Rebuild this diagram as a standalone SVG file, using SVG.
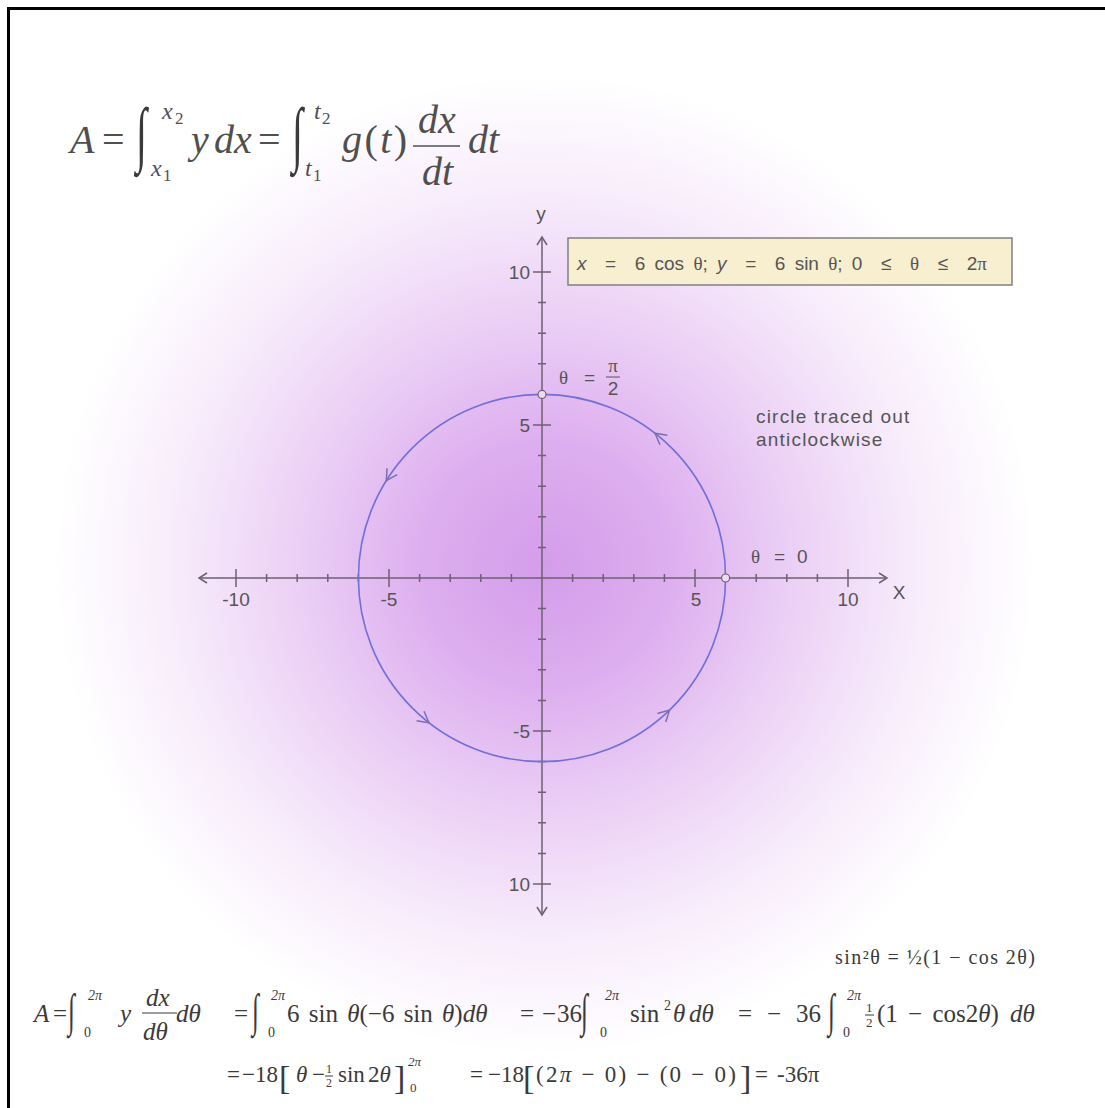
<svg xmlns="http://www.w3.org/2000/svg" width="1105" height="1108" viewBox="0 0 1105 1108">
<defs>
  <radialGradient id="bg" gradientUnits="userSpaceOnUse" cx="545" cy="565" r="490">
    <stop offset="0" stop-color="#d49dea"/>
    <stop offset="0.25" stop-color="#ddaeef"/>
    <stop offset="0.5" stop-color="#ebcff5"/>
    <stop offset="0.75" stop-color="#f7ebfb"/>
    <stop offset="1" stop-color="#ffffff"/>
  </radialGradient>
  <path id="chev" d="M-11,-6 L0,0 L-11,6" fill="none" stroke="#7a70b0" stroke-width="1.5"/>
</defs>
<style>
  .m { font-family: "Liberation Serif", "Times New Roman", serif; fill: #3a3a3a; }
  .t { fill: #4f4f4f; font-size: 40px; }
  .b1 { font-size: 25px; }
  .b2 { font-size: 23px; }
  .i { font-style: italic; }
  .lab { font-family: "Liberation Sans", Arial, sans-serif; fill: #555; font-size: 19px; }
  .ax { stroke: #6d6272; stroke-width: 1.5; fill: none; }
  .int { font-family: "Liberation Serif", "Times New Roman", serif; fill: #3a3a3a; }
  .gk { font-family: "Liberation Serif", "Times New Roman", serif; }
</style>

<rect x="0" y="0" width="1105" height="1108" fill="#ffffff"/>
<rect x="0" y="0" width="1105" height="1108" fill="url(#bg)"/>
<path d="M8.5,1108 V8.5 H1105" fill="none" stroke="#000" stroke-width="3"/>

<g id="top-formula" class="m t">
  <text x="70" y="153" class="i">A</text>
  <text x="102" y="153">=</text>
  <text class="int" font-size="40" transform="translate(136,158) scale(1,1.8)">∫</text>
  <text x="162" y="119" class="i" font-size="24">x</text>
  <text x="175" y="124" font-size="17">2</text>
  <text x="151" y="176" class="i" font-size="24">x</text>
  <text x="163" y="181" font-size="17">1</text>
  <text x="191" y="153" class="i">y</text>
  <text x="214" y="153" class="i">dx</text>
  <text x="258" y="153">=</text>
  <text class="int" font-size="40" transform="translate(292,158) scale(1,1.8)">∫</text>
  <text x="314" y="119" class="i" font-size="24">t</text>
  <text x="322" y="124" font-size="17">2</text>
  <text x="305" y="176" class="i" font-size="24">t</text>
  <text x="313" y="181" font-size="17">1</text>
  <text x="342" y="153" textLength="65" lengthAdjust="spacing"><tspan class="i">g</tspan>(<tspan class="i">t</tspan>)</text>
  <text x="418" y="133" class="i">dx</text>
  <line x1="413" y1="146" x2="460" y2="146" stroke="#4f4f4f" stroke-width="1.6"/>
  <text x="422" y="185" class="i">dt</text>
  <text x="468" y="153" class="i">dt</text>
</g>

<g id="axes">
  <path class="ax" d="M199,578 H887 M542,237 V915"/>
  <path class="ax" d="M207,573 L199,578 L207,583 M879,573 L887,578 L879,583 M537,245 L542,237 L547,245 M537,907 L542,915 L547,907"/>
  <path class="ax" d="M236,569 V587 M389,569 V587 M695,569 V587 M848,569 V587
    M266.6,574 V582 M297.2,574 V582 M327.8,574 V582 M358.4,574 V582 M419.6,574 V582 M450.2,574 V582 M480.8,574 V582 M511.4,574 V582
    M572.6,574 V582 M603.2,574 V582 M633.8,574 V582 M664.4,574 V582 M725.6,574 V582 M756.2,574 V582 M786.8,574 V582 M817.4,574 V582
    M533,272 H551 M533,425 H551 M533,731 H551 M533,884 H551
    M538,302.6 H546 M538,333.2 H546 M538,363.8 H546 M538,394.4 H546 M538,455.6 H546 M538,486.2 H546 M538,516.8 H546 M538,547.4 H546
    M538,608.6 H546 M538,639.2 H546 M538,669.8 H546 M538,700.4 H546 M538,761.6 H546 M538,792.2 H546 M538,822.8 H546 M538,853.4 H546"/>
  <text class="lab" x="541" y="220" text-anchor="middle">y</text>
  <text class="lab" x="530" y="279" text-anchor="end">10</text>
  <text class="lab" x="530" y="432" text-anchor="end">5</text>
  <text class="lab" x="530" y="738" text-anchor="end">-5</text>
  <text class="lab" x="530" y="891" text-anchor="end">10</text>
  <text class="lab" x="236" y="606" text-anchor="middle">-10</text>
  <text class="lab" x="389" y="606" text-anchor="middle">-5</text>
  <text class="lab" x="696" y="606" text-anchor="middle">5</text>
  <text class="lab" x="848" y="606" text-anchor="middle">10</text>
  <text class="lab" x="899" y="599" text-anchor="middle">X</text>
</g>

<g id="curve">
  <circle cx="542" cy="578" r="183.6" fill="none" stroke="#7070d8" stroke-width="1.6"/>
  <use href="#chev" transform="translate(655,433.3) rotate(-142)"/>
  <use href="#chev" transform="translate(386.3,480.7) rotate(122)"/>
  <use href="#chev" transform="translate(429,722.7) rotate(38)"/>
  <use href="#chev" transform="translate(669.5,710.1) rotate(-44)"/>
  <circle cx="542" cy="394.4" r="4" fill="#eadcf2" stroke="#6d6272" stroke-width="1.2"/>
  <circle cx="725.6" cy="578" r="4" fill="#eadcf2" stroke="#6d6272" stroke-width="1.2"/>
</g>

<g id="param-box">
  <rect x="568" y="238" width="444" height="47" fill="#f7efcf" stroke="#808080" stroke-width="1.5"/>
  <text class="lab" x="577" y="270" font-size="22" fill="#464646" word-spacing="4" xml:space="preserve"><tspan font-style="italic">x</tspan>  =  6 cos <tspan class="gk" font-size="19">θ</tspan>; <tspan font-style="italic">y</tspan>  =  6 sin <tspan class="gk" font-size="19">θ</tspan>; 0  ≤  <tspan class="gk" font-size="19">θ</tspan>  ≤  2<tspan class="gk" font-size="19">π</tspan></text>
</g>

<g id="labels">
  <text class="lab gk" x="559" y="384" font-size="22">θ</text>
  <text class="lab" x="584" y="384" font-size="20">=</text>
  <text class="lab gk" x="613" y="372" font-size="19" text-anchor="middle">π</text>
  <line x1="606" y1="377" x2="620" y2="377" stroke="#555" stroke-width="1"/>
  <text class="lab" x="613" y="395" font-size="20" text-anchor="middle">2</text>
  <text class="lab gk" x="751" y="563" font-size="22">θ</text>
  <text class="lab" x="774" y="563" font-size="20">=</text>
  <text class="lab" x="797" y="563" font-size="20">0</text>
  <text class="lab" x="756" y="423" font-size="22" letter-spacing="1.2">circle traced out</text>
  <text class="lab" x="756" y="446" font-size="22" letter-spacing="1.2">anticlockwise</text>
</g>

<g id="identity" class="m">
  <text x="835" y="964" font-size="20" textLength="200" lengthAdjust="spacing">sin²θ = ½(1 − cos 2θ)</text>
</g>

<g id="line1" class="m b1">
  <text x="34" y="1022" class="i">A</text>
  <text x="53" y="1022">=</text>
  <text class="int" font-size="25" transform="translate(68,1026) scale(1,1.85)">∫</text>
  <text x="88" y="1000" class="i" font-size="14">2π</text>
  <text x="84" y="1037" font-size="14">0</text>
  <text x="120" y="1022" class="i">y</text>
  <text x="146" y="1006" class="i">dx</text>
  <line x1="142" y1="1013" x2="177" y2="1013" stroke="#3a3a3a" stroke-width="1.2"/>
  <text x="143" y="1040" class="i">dθ</text>
  <text x="176" y="1022" class="i">dθ</text>
  <text x="234" y="1022">=</text>
  <text class="int" font-size="25" transform="translate(252,1026) scale(1,1.85)">∫</text>
  <text x="271" y="1000" class="i" font-size="14">2π</text>
  <text x="268" y="1037" font-size="14">0</text>
  <text x="287" y="1022" word-spacing="3">6 sin <tspan class="i">θ</tspan>(−6 sin <tspan class="i">θ</tspan>)<tspan class="i">dθ</tspan></text>
  <text x="520" y="1022">=</text>
  <text x="542" y="1022">−</text>
  <text x="557" y="1022">36</text>
  <text class="int" font-size="25" transform="translate(581,1026) scale(1,1.85)">∫</text>
  <text x="605" y="1000" class="i" font-size="14">2π</text>
  <text x="600" y="1037" font-size="14">0</text>
  <text x="630" y="1022">sin</text>
  <text x="664" y="1010" font-size="14">2</text>
  <text x="673" y="1022" class="i">θ</text>
  <text x="689" y="1022" class="i">dθ</text>
  <text x="738" y="1022">=</text>
  <text x="767" y="1022">−</text>
  <text x="796" y="1022">36</text>
  <text class="int" font-size="25" transform="translate(828,1026) scale(1,1.85)">∫</text>
  <text x="847" y="1000" class="i" font-size="14">2π</text>
  <text x="843" y="1037" font-size="14">0</text>
  <text x="866" y="1012" font-size="13">1</text>
  <line x1="865" y1="1015" x2="874" y2="1015" stroke="#3a3a3a" stroke-width="1"/>
  <text x="866" y="1027" font-size="13">2</text>
  <text x="877" y="1022" word-spacing="4">(1 − cos2<tspan class="i">θ</tspan>)</text>
  <text x="1010" y="1022" class="i">dθ</text>
</g>

<g id="line2" class="m b2">
  <text x="227" y="1082">=</text>
  <text x="242" y="1082">−18</text>
  <text x="279" y="1089" font-size="34">[</text>
  <text x="296" y="1082" class="i">θ</text>
  <text x="312" y="1082">−</text>
  <text x="326" y="1073" font-size="12">1</text>
  <line x1="325" y1="1076" x2="333" y2="1076" stroke="#3a3a3a" stroke-width="1"/>
  <text x="326" y="1087" font-size="12">2</text>
  <text x="338" y="1082">sin</text>
  <text x="368" y="1082">2<tspan class="i">θ</tspan></text>
  <text x="394" y="1089" font-size="34">]</text>
  <text x="408" y="1066" class="i" font-size="13">2π</text>
  <text x="410" y="1092" font-size="13">0</text>
  <text x="470" y="1082">=</text>
  <text x="488" y="1082">−18</text>
  <text x="523" y="1089" font-size="34">[</text>
  <text x="536" y="1082" textLength="200" lengthAdjust="spacing">(2<tspan class="i">π</tspan> − 0) − (0 − 0)</text>
  <text x="740" y="1089" font-size="34">]</text>
  <text x="755" y="1082">=</text>
  <text x="777" y="1082">-36π</text>
</g>
</svg>
